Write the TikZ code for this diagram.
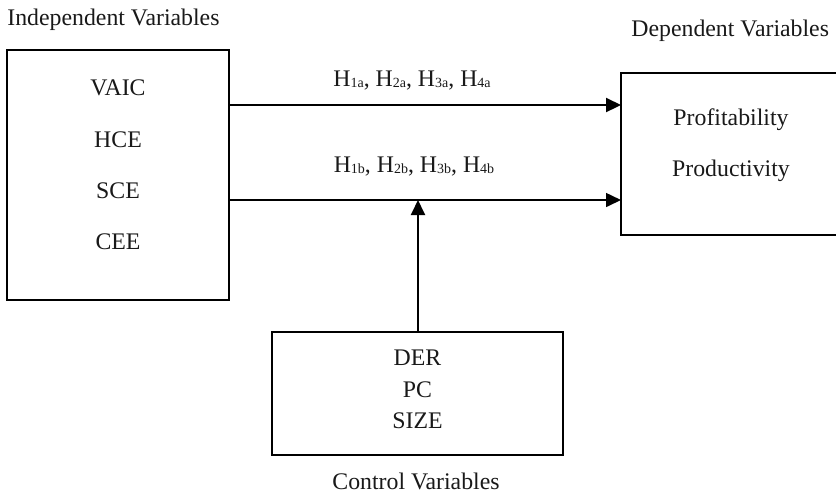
\documentclass[tikz,border=0pt]{standalone}
\usepackage{fontspec}
\setmainfont{Liberation Serif}
\usetikzlibrary{arrows.meta}
\newcommand{\hs}[1]{\raisebox{-0.8pt}{\fontsize{7}{8}\selectfont #1}}
\begin{document}
\begin{tikzpicture}[x=0.5pt,y=-0.5pt,
  every node/.style={font=\fontsize{11.9}{14}\selectfont, text=black!90},
  varbox/.style={draw, line width=1pt, inner sep=0pt, outer sep=0pt},
  lbl/.style={anchor=base, inner sep=0pt},
  arr/.style={-{Triangle[length=7.5pt,width=7pt]}}]
\useasboundingbox (0,0) rectangle (836,495);
\clip (0,0) rectangle (836,495);
% boxes
\node[varbox, minimum width=111pt, minimum height=125pt] (iv) at (118,175) {};
\node[varbox, minimum width=114.5pt, minimum height=81pt] (dv) at (735.5,154) {};
\node[varbox, minimum width=145.5pt, minimum height=61.5pt] (cv) at (417.5,393.5) {};
% titles
\node[lbl, anchor=base west] (tiv) at (7,25) {Independent Variables};
\node[lbl, anchor=base west] (tdv) at (631,36) {Dependent Variables};
\node[lbl] (tcv) at (416,489) {Control Variables};
% box contents
\node[lbl] (vaic) at (118,95) {VAIC};
\node[lbl] (hce) at (118,147) {HCE};
\node[lbl] (sce) at (118,198) {SCE};
\node[lbl] (cee) at (118,249) {CEE};
\node[lbl] (prof) at (731,125) {Profitability};
\node[lbl] (prod) at (731,176) {Productivity};
\node[lbl] (der) at (417.5,365) {DER};
\node[lbl] (pc) at (417.5,397) {PC};
\node[lbl] (size) at (417.5,428) {SIZE};
% hypothesis labels
\node[lbl] (ha) at (412,86) {H\hs{1a}, H\hs{2a}, H\hs{3a}, H\hs{4a}};
\node[lbl] (hb) at (414,172) {H\hs{1b}, H\hs{2b}, H\hs{3b}, H\hs{4b}};
% connectors
\coordinate (ya) at (0,105);
\coordinate (yb) at (0,200);
\coordinate (m) at (418,200);
\draw[arr, line width=1.1pt] (iv.east |- ya) -- (dv.west |- ya);
\draw[arr, line width=0.8pt] (iv.east |- yb) -- (dv.west |- yb);
\draw[arr, line width=1pt] (cv.north -| m) -- (m);
\end{tikzpicture}
\end{document}
